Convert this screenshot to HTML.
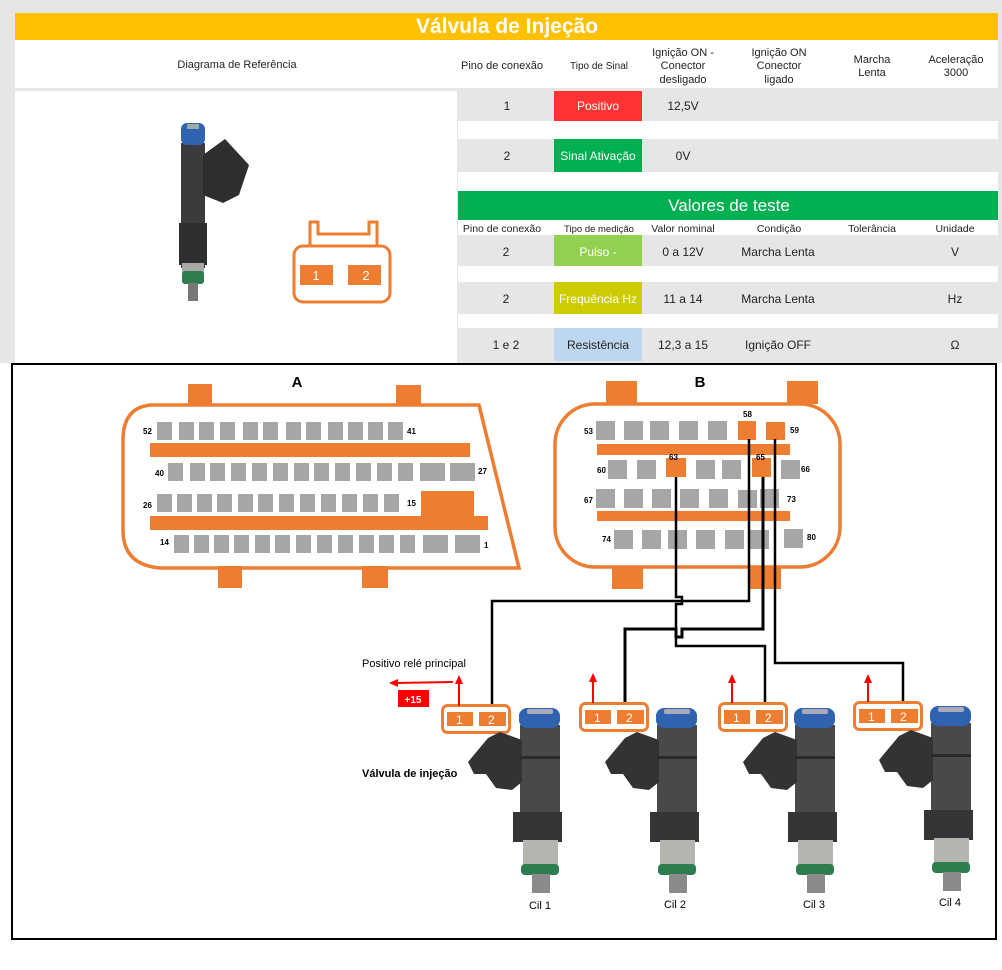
<!DOCTYPE html>
<html><head><meta charset="utf-8"><style>
body{margin:0;width:1002px;height:970px;background:#fff;overflow:hidden;font-family:"Liberation Sans Narrow","Liberation Sans",sans-serif}
svg{position:absolute;left:0;top:0}
</style></head><body>
<svg width="1002" height="970" viewBox="0 0 1002 970" font-family="Liberation Sans Narrow, Liberation Sans, sans-serif">
<defs>
<g id="inj">
 <rect x="-12" y="20" width="24" height="125" fill="#3b3b3d"/>
 <path d="M10 32 L32 16 L56 42 L46 72 L30 80 L10 72 Z" fill="#2e2e30"/>
 <rect x="-14" y="100" width="28" height="42" fill="#2f2f31"/>
 <rect x="-12" y="0" width="24" height="22" rx="6" fill="#2f63b0"/>
 <rect x="-6" y="1" width="12" height="5" fill="#9aa"/>
 <rect x="-11" y="140" width="22" height="10" fill="#a8a8a8"/>
 <rect x="-11" y="148" width="22" height="13" rx="3" fill="#2e7d4f"/>
 <rect x="-5" y="160" width="10" height="18" fill="#777"/>
</g>
<g id="injb">
 <rect x="-20" y="17" width="40" height="90" fill="#49494b"/>
 <path d="M-18 32 L-40 24 L-52 30 L-72 54 L-66 66 L-54 66 L-44 80 L-28 82 L-18 74 Z" fill="#333335"/>
 <rect x="-27" y="104" width="49" height="30" fill="#353537"/>
 <rect x="-17" y="132" width="35" height="25" fill="#b5b5b0"/>
 <rect x="-19" y="156" width="38" height="11" rx="4" fill="#2e7d4f"/>
 <rect x="-8" y="166" width="18" height="19" fill="#8a8a8a"/>
 <rect x="-21" y="0" width="41" height="20" rx="8" fill="#2f63b0"/>
 <rect x="-13" y="1" width="26" height="5" rx="2" fill="#aab"/>
 <rect x="-20" y="48" width="40" height="3" fill="#2a2a2c"/>
</g>
</defs>
<rect x="0" y="0" width="1002" height="363" fill="#e6e6e6"/>
<rect x="15" y="13" width="983" height="27" fill="#ffc000"/>
<text x="507" y="33" font-size="21" font-weight="bold" fill="#fff" text-anchor="middle">Válvula de Injeção</text>
<rect x="15" y="40" width="983" height="48" fill="#fff"/>
<g font-size="11" fill="#222" text-anchor="middle">
<text x="237" y="68">Diagrama de Referência</text>
<text x="502" y="69">Pino de conexão</text>
<text x="599" y="69" font-size="10">Tipo de Sinal</text>
<text x="683" y="56">Ignição ON -</text><text x="683" y="69">Conector</text><text x="683" y="83">desligado</text>
<text x="779" y="56">Ignição ON</text><text x="779" y="69">Conector</text><text x="779" y="83">ligado</text>
<text x="872" y="63">Marcha</text><text x="872" y="76">Lenta</text>
<text x="956" y="63">Aceleração</text><text x="956" y="76">3000</text>
</g>
<rect x="15" y="91" width="442" height="272" fill="#fff"/>
<rect x="458" y="91" width="540" height="30" fill="#e6e6e6"/>
<rect x="458" y="121" width="540" height="18" fill="#fff"/>
<rect x="458" y="139" width="540" height="33" fill="#e6e6e6"/>
<rect x="458" y="172" width="540" height="19" fill="#fff"/>
<rect x="554" y="91" width="88" height="30" fill="#ff3333"/>
<rect x="554" y="139" width="88" height="33" fill="#00b050"/>
<g font-size="12" text-anchor="middle" fill="#222">
<text x="507" y="110">1</text><text x="598" y="110" fill="#fff">Positivo</text><text x="683" y="110">12,5V</text>
<text x="507" y="160">2</text><text x="598" y="160" fill="#fff">Sinal Ativação</text><text x="683" y="160">0V</text>
</g>
<rect x="458" y="191" width="540" height="29" fill="#00b050"/>
<text x="729" y="211" font-size="17" fill="#fff" text-anchor="middle">Valores de teste</text>
<rect x="458" y="220" width="540" height="15" fill="#fff"/>
<g font-size="10.5" text-anchor="middle" fill="#222">
<text x="502" y="232">Pino de conexão</text><text x="599" y="232" font-size="9.5">Tipo de medição</text><text x="683" y="232">Valor nominal</text><text x="779" y="232">Condição</text><text x="872" y="232">Tolerância</text><text x="955" y="232">Unidade</text>
</g>
<rect x="458" y="235" width="540" height="31" fill="#e6e6e6"/>
<rect x="458" y="266" width="540" height="16" fill="#fff"/>
<rect x="458" y="282" width="540" height="32" fill="#e6e6e6"/>
<rect x="458" y="314" width="540" height="14" fill="#fff"/>
<rect x="458" y="328" width="540" height="33" fill="#e6e6e6"/>
<rect x="554" y="235" width="88" height="31" fill="#92d050"/>
<rect x="554" y="282" width="88" height="32" fill="#cccc00"/>
<rect x="554" y="328" width="88" height="33" fill="#bdd7ee"/>
<g font-size="12" text-anchor="middle" fill="#222">
<text x="506" y="256">2</text><text x="598" y="256" fill="#fff">Pulso -</text><text x="683" y="256">0 a 12V</text><text x="778" y="256">Marcha Lenta</text><text x="955" y="256">V</text>
<text x="506" y="303">2</text><text x="598" y="303" fill="#fff">Frequência Hz</text><text x="683" y="303">11 a 14</text><text x="778" y="303">Marcha Lenta</text><text x="955" y="303">Hz</text>
<text x="506" y="349">1 e 2</text><text x="598" y="349">Resistência</text><text x="683" y="349">12,3 a 15</text><text x="778" y="349">Ignição OFF</text><text x="955" y="349">Ω</text>
</g>
<use href="#inj" transform="translate(193,123)"/>
<g fill="none" stroke="#ed7d31" stroke-width="3">
<rect x="294" y="246" width="96" height="56" rx="9"/>
<path d="M310 246 V222 H318 V234 H369 V222 H377 V246"/>
</g>
<rect x="300" y="265" width="33" height="20" fill="#ed7d31"/><rect x="348" y="265" width="33" height="20" fill="#ed7d31"/>
<text x="316" y="280" font-size="13" fill="#fff" text-anchor="middle">1</text><text x="366" y="280" font-size="13" fill="#fff" text-anchor="middle">2</text>

<rect x="12" y="364" width="984" height="575" fill="#fff" stroke="#000" stroke-width="2"/>
<text x="297" y="387" font-size="15" font-weight="bold" text-anchor="middle" font-family="Liberation Sans, sans-serif">A</text>
<text x="700" y="387" font-size="15" font-weight="bold" text-anchor="middle" font-family="Liberation Sans, sans-serif">B</text>
<g fill="#ed7d31">
<rect x="188" y="384" width="24" height="22"/><rect x="396" y="385" width="25" height="21"/>
<rect x="218" y="566" width="24" height="22"/><rect x="362" y="566" width="26" height="22"/>
</g>
<path d="M150 405 H479 L519 568 H160 Q123 565 123 530 V440 Q123 408 150 405 Z" fill="none" stroke="#ed7d31" stroke-width="3.5"/>
<g fill="#ed7d31">
<rect x="150" y="443" width="320" height="14"/>
<rect x="150" y="516" width="338" height="14"/>
<rect x="421" y="491" width="53" height="26"/>
</g>
<g fill="#a6a6a6">
<rect x="157" y="422" width="15" height="18"/><rect x="179" y="422" width="15" height="18"/><rect x="199" y="422" width="15" height="18"/><rect x="220" y="422" width="15" height="18"/><rect x="243" y="422" width="15" height="18"/><rect x="263" y="422" width="15" height="18"/><rect x="286" y="422" width="15" height="18"/><rect x="306" y="422" width="15" height="18"/><rect x="328" y="422" width="15" height="18"/><rect x="348" y="422" width="15" height="18"/><rect x="368" y="422" width="15" height="18"/><rect x="388" y="422" width="15" height="18"/>
<rect x="168" y="463" width="15" height="18"/><rect x="190" y="463" width="15" height="18"/><rect x="210" y="463" width="15" height="18"/><rect x="231" y="463" width="15" height="18"/><rect x="252" y="463" width="15" height="18"/><rect x="273" y="463" width="15" height="18"/><rect x="294" y="463" width="15" height="18"/><rect x="314" y="463" width="15" height="18"/><rect x="335" y="463" width="15" height="18"/><rect x="356" y="463" width="15" height="18"/><rect x="377" y="463" width="15" height="18"/><rect x="398" y="463" width="15" height="18"/><rect x="420" y="463" width="25" height="18"/><rect x="450" y="463" width="25" height="18"/>
<rect x="157" y="494" width="15" height="18"/><rect x="177" y="494" width="15" height="18"/><rect x="197" y="494" width="15" height="18"/><rect x="217" y="494" width="15" height="18"/><rect x="238" y="494" width="15" height="18"/><rect x="258" y="494" width="15" height="18"/><rect x="279" y="494" width="15" height="18"/><rect x="300" y="494" width="15" height="18"/><rect x="321" y="494" width="15" height="18"/><rect x="342" y="494" width="15" height="18"/><rect x="363" y="494" width="15" height="18"/><rect x="384" y="494" width="15" height="18"/>
<rect x="174" y="535" width="15" height="18"/><rect x="194" y="535" width="15" height="18"/><rect x="214" y="535" width="15" height="18"/><rect x="234" y="535" width="15" height="18"/><rect x="255" y="535" width="15" height="18"/><rect x="275" y="535" width="15" height="18"/><rect x="296" y="535" width="15" height="18"/><rect x="317" y="535" width="15" height="18"/><rect x="338" y="535" width="15" height="18"/><rect x="359" y="535" width="15" height="18"/><rect x="379" y="535" width="15" height="18"/><rect x="400" y="535" width="15" height="18"/><rect x="423" y="535" width="25" height="18"/><rect x="455" y="535" width="25" height="18"/>
</g>
<g font-size="8" font-weight="bold" font-family="Liberation Sans, sans-serif">
<text x="143" y="434">52</text><text x="407" y="434">41</text>
<text x="155" y="476">40</text><text x="478" y="474">27</text>
<text x="143" y="508">26</text><text x="407" y="506">15</text>
<text x="160" y="545">14</text><text x="484" y="548">1</text>
</g>
<g fill="#ed7d31">
<rect x="606" y="381" width="31" height="23"/><rect x="787" y="381" width="31" height="23"/>
<rect x="612" y="566" width="31" height="23"/><rect x="750" y="566" width="31" height="23"/>
</g>
<rect x="555" y="404" width="285" height="163" rx="40" fill="none" stroke="#ed7d31" stroke-width="3.5"/>
<g fill="#ed7d31">
<rect x="597" y="444" width="193" height="11"/><rect x="597" y="511" width="193" height="10"/>
<rect x="738" y="421" width="18" height="19"/><rect x="766" y="422" width="19" height="18"/>
<rect x="666" y="458" width="20" height="19"/><rect x="752" y="458" width="19" height="19"/>
</g>
<g fill="#a6a6a6">
<rect x="596" y="421" width="19" height="19"/><rect x="624" y="421" width="19" height="19"/><rect x="650" y="421" width="19" height="19"/><rect x="679" y="421" width="19" height="19"/><rect x="708" y="421" width="19" height="19"/>
<rect x="608" y="460" width="19" height="19"/><rect x="637" y="460" width="19" height="19"/><rect x="696" y="460" width="19" height="19"/><rect x="722" y="460" width="19" height="19"/><rect x="781" y="460" width="19" height="19"/>
<rect x="596" y="489" width="19" height="19"/><rect x="624" y="489" width="19" height="19"/><rect x="652" y="489" width="19" height="19"/><rect x="680" y="489" width="19" height="19"/><rect x="709" y="489" width="19" height="19"/><rect x="738" y="490" width="19" height="18"/><rect x="760" y="489" width="19" height="19"/>
<rect x="614" y="530" width="19" height="19"/><rect x="642" y="530" width="19" height="19"/><rect x="668" y="530" width="19" height="19"/><rect x="696" y="530" width="19" height="19"/><rect x="725" y="530" width="19" height="19"/><rect x="750" y="530" width="19" height="19"/><rect x="784" y="529" width="19" height="19"/>
</g>
<g font-size="8" font-weight="bold" font-family="Liberation Sans, sans-serif">
<text x="584" y="434">53</text><text x="743" y="417">58</text><text x="790" y="433">59</text>
<text x="597" y="473">60</text><text x="669" y="460">63</text><text x="756" y="460">65</text><text x="801" y="472">66</text>
<text x="584" y="503">67</text><text x="787" y="502">73</text>
<text x="602" y="542">74</text><text x="807" y="540">80</text>
</g>
<g fill="none" stroke="#000" stroke-width="2.5">
<path d="M676 477 V597 H682 V604 H676 V646 H765 V707"/>
<path d="M749 439 V601 H492 V707"/>
<path d="M763 477 V629 H682 V637 H676 V629 H625 V705" stroke-width="3"/>
<path d="M775 439 V663 H903 V705"/>
</g>
<g>
<g transform="translate(441,704)"><rect x="1.5" y="1.5" width="67" height="27" rx="5" fill="#fff" stroke="#ed7d31" stroke-width="3"/><rect x="6" y="8" width="26" height="14" fill="#ed7d31"/><rect x="38" y="8" width="27" height="14" fill="#ed7d31"/><text x="15" y="20" font-size="12" fill="#fff">1</text><text x="47" y="20" font-size="12" fill="#fff">2</text></g>
<g transform="translate(579,702)"><rect x="1.5" y="1.5" width="67" height="27" rx="5" fill="#fff" stroke="#ed7d31" stroke-width="3"/><rect x="6" y="8" width="26" height="14" fill="#ed7d31"/><rect x="38" y="8" width="27" height="14" fill="#ed7d31"/><text x="15" y="20" font-size="12" fill="#fff">1</text><text x="47" y="20" font-size="12" fill="#fff">2</text></g>
<g transform="translate(718,702)"><rect x="1.5" y="1.5" width="67" height="27" rx="5" fill="#fff" stroke="#ed7d31" stroke-width="3"/><rect x="6" y="8" width="26" height="14" fill="#ed7d31"/><rect x="38" y="8" width="27" height="14" fill="#ed7d31"/><text x="15" y="20" font-size="12" fill="#fff">1</text><text x="47" y="20" font-size="12" fill="#fff">2</text></g>
<g transform="translate(853,701)"><rect x="1.5" y="1.5" width="67" height="27" rx="5" fill="#fff" stroke="#ed7d31" stroke-width="3"/><rect x="6" y="8" width="26" height="14" fill="#ed7d31"/><rect x="38" y="8" width="27" height="14" fill="#ed7d31"/><text x="15" y="20" font-size="12" fill="#fff">1</text><text x="47" y="20" font-size="12" fill="#fff">2</text></g>
</g>
<g stroke="#f00" stroke-width="2" fill="#f00">
<line x1="459" y1="706" x2="459" y2="682"/><path d="M455 684 L459 675 L463 684 Z" stroke="none"/>
<line x1="593" y1="703" x2="593" y2="680"/><path d="M589 682 L593 673 L597 682 Z" stroke="none"/>
<line x1="732" y1="703" x2="732" y2="681"/><path d="M728 683 L732 674 L736 683 Z" stroke="none"/>
<line x1="868" y1="702" x2="868" y2="681"/><path d="M864 683 L868 674 L872 683 Z" stroke="none"/>
<line x1="453" y1="682" x2="396" y2="683"/><path d="M398 679 L389 683 L398 687 Z" stroke="none"/>
</g>
<rect x="398" y="690" width="31" height="17" fill="#f00"/>
<text x="413" y="703" font-size="10" font-weight="bold" fill="#fff" text-anchor="middle" font-family="Liberation Sans, sans-serif">+15</text>
<text x="362" y="667" font-size="11" font-family="Liberation Sans, sans-serif">Positivo relé principal</text>
<text x="362" y="777" font-size="11" font-weight="bold" font-family="Liberation Sans, sans-serif">Válvula de injeção</text>
<use href="#injb" transform="translate(540,708)"/>
<use href="#injb" transform="translate(677,708)"/>
<use href="#injb" transform="translate(815,708)"/>
<use href="#injb" transform="translate(951,706)"/>
<g font-size="11" text-anchor="middle" font-family="Liberation Sans, sans-serif">
<text x="540" y="909">Cil 1</text><text x="675" y="908">Cil 2</text><text x="814" y="908">Cil 3</text><text x="950" y="906">Cil 4</text>
</g>
</svg>
</body></html>
